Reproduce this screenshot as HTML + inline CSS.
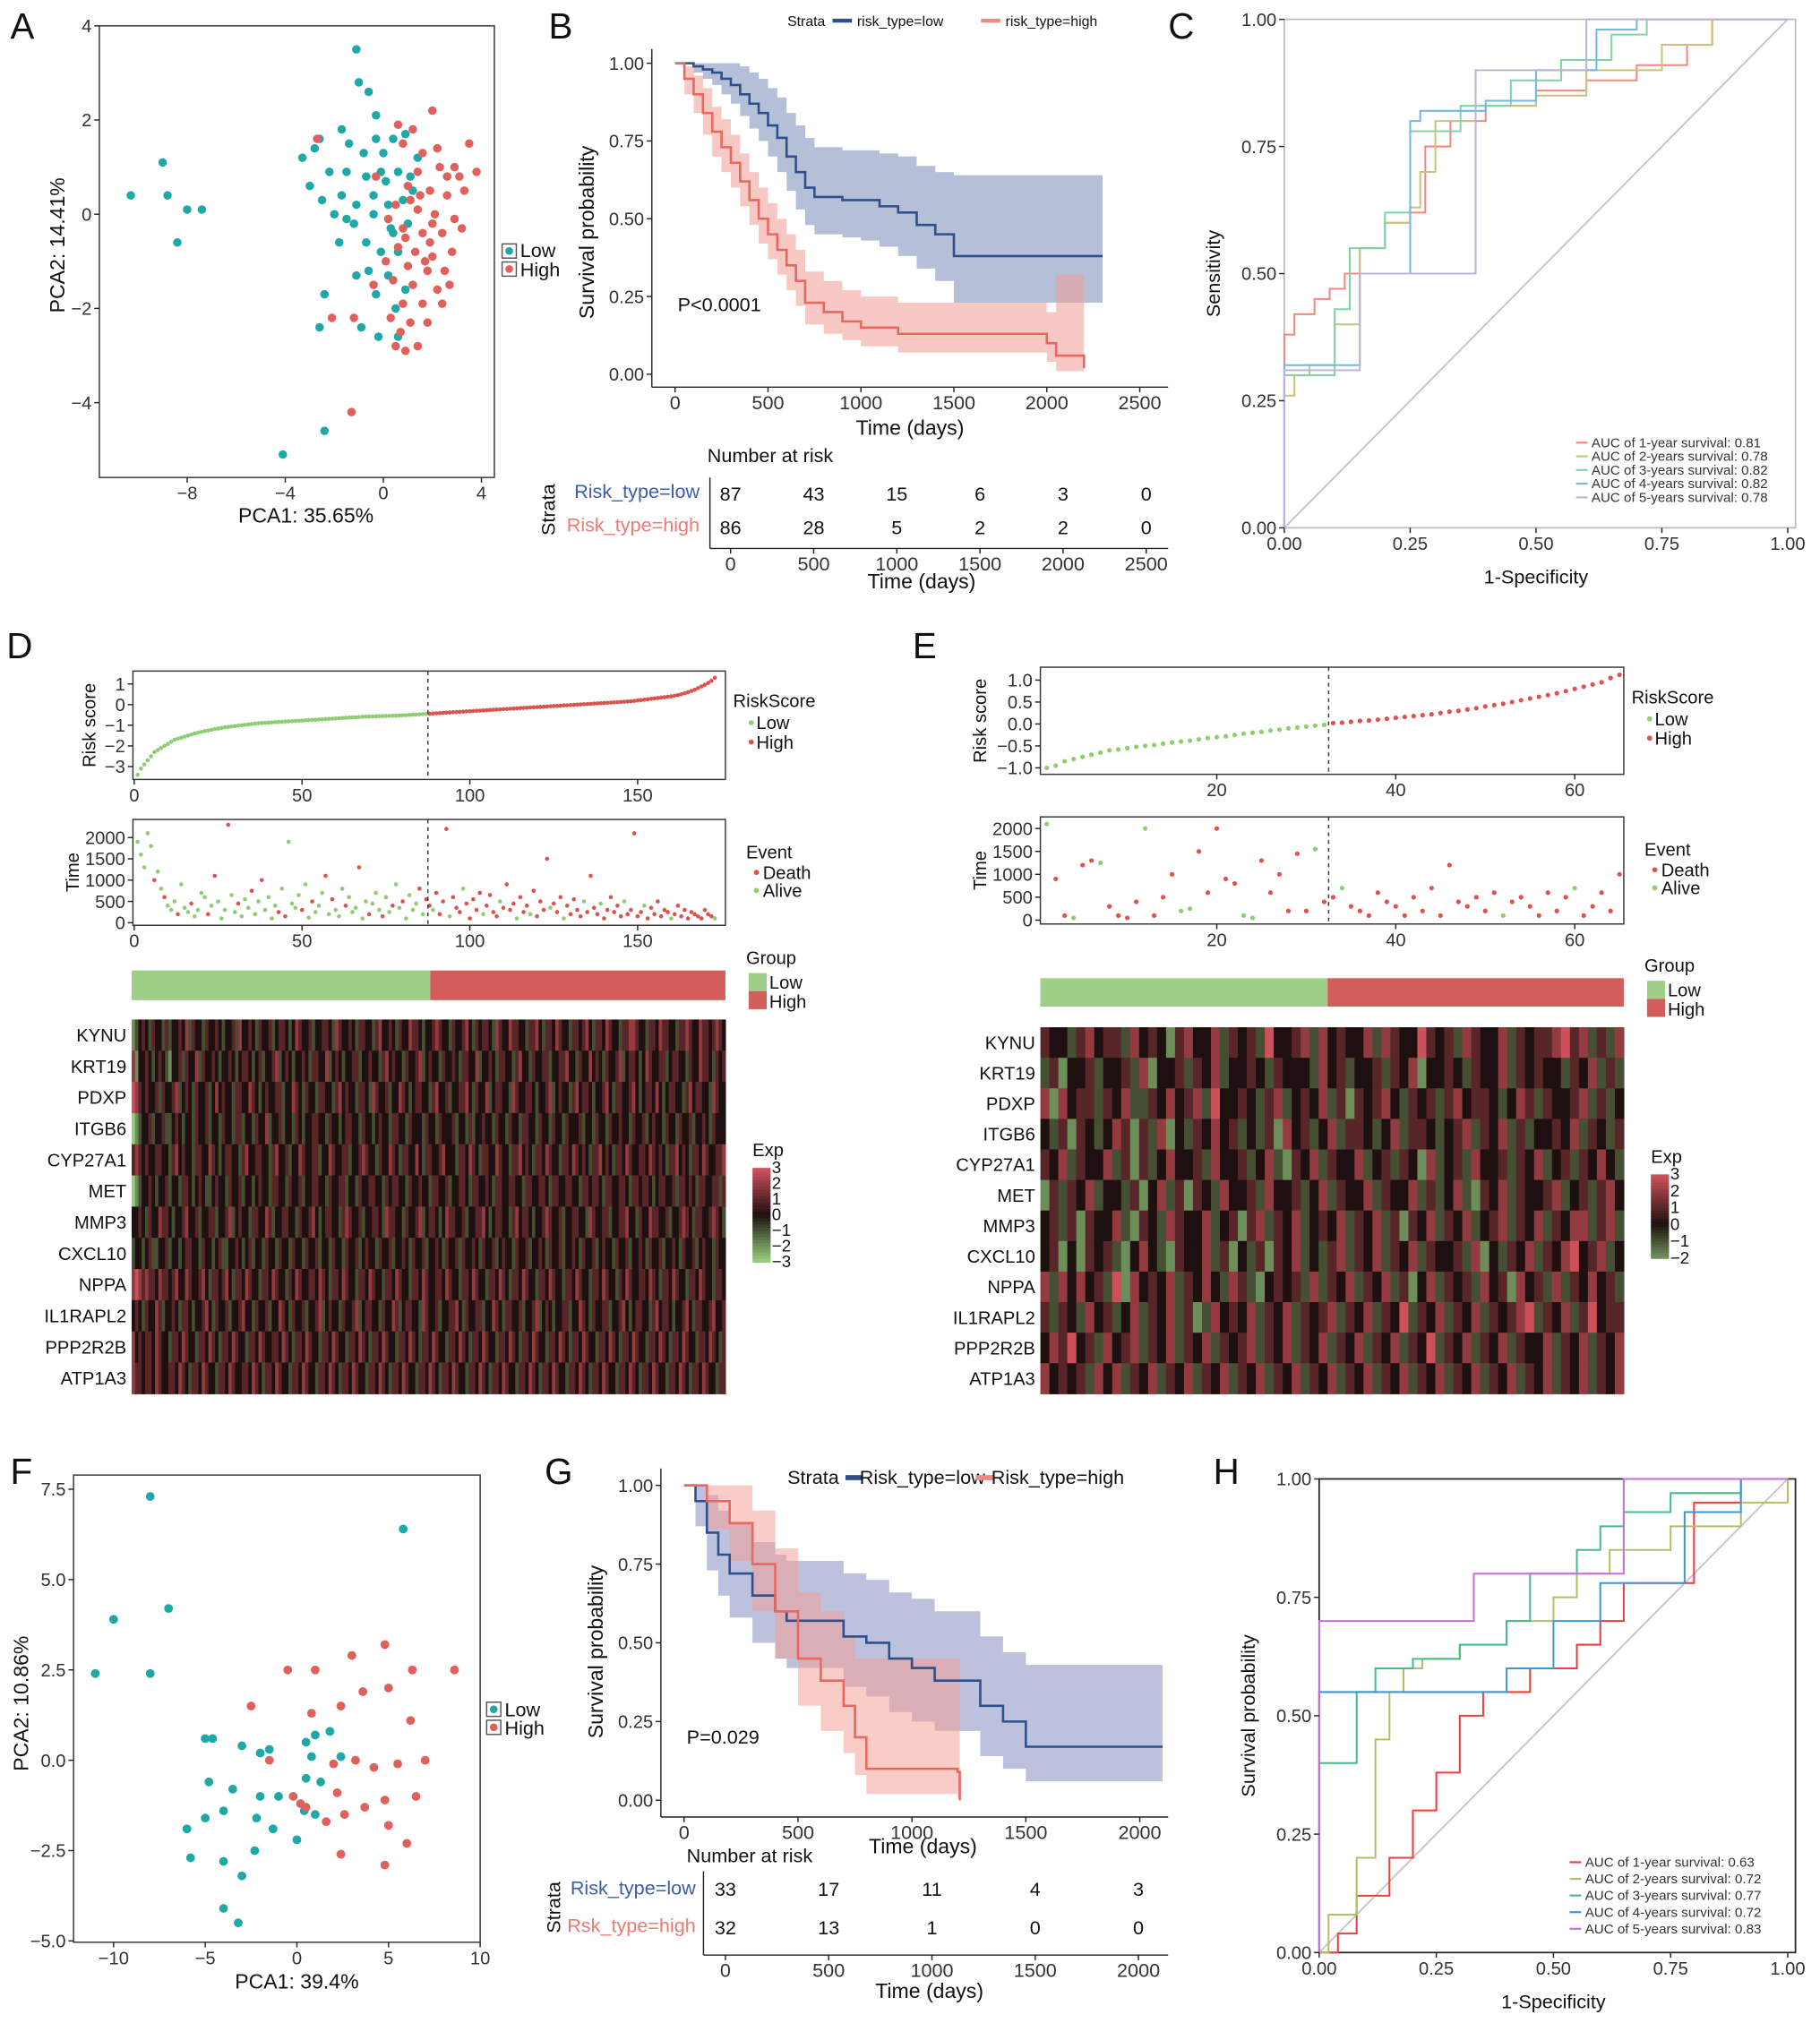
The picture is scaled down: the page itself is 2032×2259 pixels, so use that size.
<!DOCTYPE html>
<html><head><meta charset="utf-8">
<style>
html,body{margin:0;padding:0;background:#fff;}
svg{display:block;font-family:"Liberation Sans",Arial,sans-serif;}
</style></head>
<body>
<svg id="fig" width="2032" height="2259" viewBox="0 0 1410 1567.6" preserveAspectRatio="none" xmlns="http://www.w3.org/2000/svg"></svg>
<script>
// ---------------- DATA ----------------
const aLowPC1=[-10.3,-9.0,-8.8,-8.4,-8.0,-7.4,-4.1,-2.4,-2.6,-2.4,-1.1,-1.0,-0.6,-0.3,-1.7,-2.6,-2.8,-1.4,-0.3,0.4,0.9,-3.0,-2.2,-1.5,-0.7,0.1,0.6,-2.5,-1.7,-1.1,-0.4,0.2,0.8,-1.2,-0.4,0.3,-0.7,-0.1,0.6,-0.6,0.2,-0.3,0.5,-0.9,-0.2,0.6,-1.1,1.2,1.0,-2.0,0.0,-0.8,1.4,-1.5,0.9,0.4,-0.1,1.1,-3.3,-1.8];
const aLowPC2=[0.4,1.1,0.4,-0.6,0.1,0.1,-5.1,-4.6,-2.4,-1.7,3.5,2.8,2.6,2.1,1.8,1.6,1.4,1.5,1.6,1.6,1.7,0.6,0.9,0.9,0.8,0.7,0.9,0.3,0.4,0.2,0.4,0.2,0.3,-0.2,0.0,-0.3,-0.6,-0.8,-0.8,-1.2,-1.3,-1.7,-2.0,-2.4,-2.6,-2.6,-1.3,0.5,-0.2,0.0,1.3,1.3,1.2,-0.1,-1.6,-0.4,0.9,0.8,1.2,-0.6];
const aHighPC1=[-2.7,0.6,1.2,2.0,0.8,1.6,1.4,2.3,2.9,3.1,3.8,1.0,1.9,2.6,3.3,0.5,1.4,2.1,2.9,0.8,1.6,2.4,3.2,0.6,1.3,2.0,2.8,1.0,1.8,2.5,0.4,1.2,2.2,0.8,1.6,2.4,0.3,1.1,1.8,-1.2,-2.1,0.7,1.4,0.9,-1.3,0.5,-0.4,1.9,2.7,0.2,1.5,3.5,2.2,0.1,-0.3,2.0,1.7,2.6,1.1,0.9];
const aHighPC2=[1.6,1.9,1.8,2.2,1.5,1.3,0.9,1.0,1.0,0.8,0.9,0.6,0.5,0.4,0.5,0.2,0.1,0.0,-0.1,-0.3,-0.4,-0.4,-0.3,-0.7,-0.8,-0.9,-0.8,-1.1,-1.2,-1.2,-1.4,-1.5,-1.6,-1.9,-1.9,-1.9,-2.2,-2.3,-2.3,-2.2,-2.2,-2.5,-2.8,-2.9,-4.2,-2.8,-1.5,-0.6,-1.5,-0.1,0.4,1.5,1.4,-1.0,0.8,-0.2,-1.0,0.8,0.3,-0.5];
const bLowT=[0,50,100,150,200,250,300,350,400,450,500,550,600,650,700,750,900,1000,1100,1200,1300,1400,1500,2300];
const bLowS=[1,1,0.99,0.98,0.97,0.95,0.93,0.9,0.87,0.84,0.8,0.76,0.7,0.65,0.6,0.57,0.56,0.56,0.54,0.52,0.48,0.45,0.38,0.38];
const bLowUp=[1,1,1,1,1,1,1,0.99,0.97,0.95,0.92,0.89,0.84,0.8,0.76,0.73,0.72,0.72,0.71,0.7,0.67,0.65,0.64,0.64];
const bLowLo=[1,1,0.97,0.95,0.93,0.9,0.87,0.83,0.79,0.75,0.7,0.65,0.59,0.53,0.48,0.45,0.44,0.43,0.41,0.38,0.34,0.3,0.23,0.23];
const bHighT=[0,50,100,150,200,250,300,350,400,450,500,550,600,650,700,800,900,1000,1200,1500,2000,2050,2200];
const bHighS=[1,0.95,0.9,0.84,0.78,0.73,0.68,0.62,0.56,0.5,0.45,0.4,0.35,0.3,0.23,0.2,0.17,0.15,0.13,0.13,0.1,0.06,0.02];
const bHighUp=[1,0.99,0.96,0.92,0.86,0.82,0.77,0.71,0.65,0.6,0.55,0.5,0.45,0.4,0.33,0.3,0.27,0.25,0.23,0.23,0.2,0.32,0.32];
const bHighLo=[1,0.9,0.84,0.77,0.7,0.65,0.6,0.54,0.48,0.42,0.37,0.32,0.27,0.22,0.16,0.13,0.11,0.09,0.07,0.07,0.04,0.01,0];
const bRiskLow=[87,43,15,6,3,0];
const bRiskHigh=[86,28,5,2,2,0];
const bTicks=[0,500,1000,1500,2000,2500];
const cF1=[0,0,0.02,0.06,0.09,0.12,0.15,0.2,0.25,0.28,0.33,0.4,0.5,0.6,0.7,0.8,0.85,1];
const cT1=[0,0.38,0.42,0.45,0.47,0.5,0.55,0.6,0.62,0.75,0.8,0.83,0.86,0.88,0.91,0.95,1,1];
const cF2=[0,0,0.02,0.05,0.1,0.15,0.2,0.25,0.27,0.3,0.38,0.5,0.6,0.75,0.85,1];
const cT2=[0,0.26,0.3,0.32,0.4,0.55,0.6,0.63,0.7,0.8,0.83,0.85,0.9,0.95,1,1];
const cF3=[0,0,0.1,0.13,0.2,0.25,0.35,0.45,0.55,0.65,0.72,1];
const cT3=[0,0.3,0.43,0.55,0.62,0.78,0.83,0.88,0.92,0.97,1,1];
const cF4=[0,0,0.15,0.25,0.27,0.4,0.5,0.62,0.7,1];
const cT4=[0,0.32,0.5,0.8,0.82,0.84,0.9,0.98,1,1];
const cF5=[0,0,0.12,0.15,0.35,0.38,0.5,0.6,1];
const cT5=[0,0.31,0.31,0.5,0.5,0.9,0.9,1,1];
const cLabels=["AUC of 1-year survival: 0.81","AUC of 2-years survival: 0.78","AUC of 3-years survival: 0.82","AUC of 4-years survival: 0.82","AUC of 5-years survival: 0.78"];
const dRisk=[-3.4,-3.1,-2.9,-2.7,-2.5,-2.3,-2.2,-2.1,-2.0,-1.9,-1.8,-1.7,-1.65,-1.6,-1.55,-1.5,-1.45,-1.4,-1.36,-1.32,-1.28,-1.25,-1.22,-1.19,-1.16,-1.13,-1.1,-1.08,-1.06,-1.04,-1.02,-1.0,-0.98,-0.96,-0.94,-0.92,-0.9,-0.89,-0.88,-0.87,-0.86,-0.85,-0.84,-0.83,-0.82,-0.81,-0.8,-0.79,-0.78,-0.77,-0.76,-0.75,-0.74,-0.73,-0.72,-0.71,-0.7,-0.69,-0.68,-0.67,-0.66,-0.65,-0.64,-0.63,-0.62,-0.61,-0.6,-0.59,-0.58,-0.575,-0.57,-0.565,-0.56,-0.555,-0.55,-0.545,-0.54,-0.535,-0.53,-0.52,-0.51,-0.5,-0.49,-0.48,-0.47,-0.46,-0.45,
-0.44,-0.43,-0.42,-0.41,-0.4,-0.39,-0.38,-0.37,-0.36,-0.35,-0.34,-0.33,-0.32,-0.31,-0.3,-0.29,-0.28,-0.27,-0.26,-0.25,-0.24,-0.23,-0.22,-0.21,-0.2,-0.19,-0.18,-0.17,-0.16,-0.15,-0.14,-0.13,-0.12,-0.11,-0.1,-0.09,-0.08,-0.07,-0.06,-0.05,-0.04,-0.03,-0.02,-0.01,0,0.01,0.02,0.03,0.04,0.05,0.06,0.07,0.08,0.09,0.1,0.11,0.12,0.13,0.14,0.15,0.16,0.18,0.2,0.22,0.24,0.26,0.28,0.3,0.32,0.34,0.36,0.38,0.4,0.43,0.46,0.5,0.55,0.6,0.66,0.72,0.8,0.88,0.96,1.05,1.15,1.3];
const dLowN=87;
const dTime=[1900,1600,1300,2100,1800,1000,1200,800,600,400,300,500,200,900,350,250,450,150,300,700,600,200,400,1100,500,100,300,2300,650,250,450,150,550,350,750,200,500,1000,300,600,100,400,250,800,150,1900,450,350,650,300,900,120,500,250,400,700,1100,200,550,300,150,800,400,600,250,350,1300,100,500,200,450,700,300,150,600,250,400,900,350,500,100,650,300,450,800,200,550,
400,300,700,200,500,2200,150,600,350,250,800,450,100,550,300,700,200,400,650,250,150,500,350,900,300,450,100,600,250,400,200,750,150,500,300,1500,350,450,250,600,100,400,200,550,300,150,500,250,1100,350,200,450,100,300,600,250,400,150,500,200,300,2100,150,250,400,100,350,200,500,150,300,250,100,200,400,150,300,100,250,200,150,100,300,200,150,100];
const dStatus="AAAAADAADAAADAAADAAAADADAAADAADAAADAADAAAADADAAAADAADAAADADAAADAAADAADAAADAADAADAAAADA"+"DDADDDDADDDADDDDDADDDDADDDDADDDADDDDDADDDADDDDDADDDDADDDDDDADDDDDADDDDDDDADDDDDDDDDDDD";
const genes=["KYNU","KRT19","PDXP","ITGB6","CYP27A1","MET","MMP3","CXCL10","NPPA","IL1RAPL2","PPP2R2B","ATP1A3"];
const dHeat=[
"1234324332423343524332433432334253343243342344323543342334432543343244332453343243354432334543324334532434432543354433244532443543324434532443543324455433244354433244543354434543",
"5133432343213342433524334323343234432342334523432334324433523432334423343324534332433452343324334324433523343244332453324334423344533243353432433452344323543344234433243354432434",
"6543433424334523432433423534332443354323433442335432433244332453433244325433423354323443324533423344532433523443325433443233452343324534432334532443345323443532344332453443325433",
"0123342334223432332433423324332442332433523342332432334433243323443324332343324433243332433243334233242334332433243324433243324332433342332433243343324334234332433243342334324333",
"4543433443324534332443354323443324533443324533423354334423354334423345433243354324433532443345333244354324433543324453432443543324435434324453432443543344354343244534324435433445",
"0123343233423324432343223433243342332343324433243342334433243344233243344332434433243343324433423344324433432443344332443344324433443324434432443344324434432344334244343244334424",
"3343243354432334533423344233452343324433542334433243345323443324543342334432544332433452344323544334233445323443324534432334543342334433254334423344533243354433423345432443345432",
"2332342233423323443324332342233432342332433243324332433423324332433423433243342334324334233432433424334324334234332433423343243342334324334234332433423343243342334324334234332433",
"5654544354434533543345324434532443543324435433243543344354324435433244354332443543324435433443543324435433244354324435433244354332443543324435433243543344354324435433244354332443",
"3432433542334324432334532433423345332433423354324334233452343324334523443324335423443325433423344532433442335432443342334523432334423354324334423345323443324534432334532443345334",
"5343443543324435433244354324435433244354334435432443543324435433244354324435433244354324435433244354324435433244354324435433244354324435433244354324435433244354324435433244354324",
"5443443543344354324435433244354334435432443543324435433244354324435433244354324435433244354324435433244354324435433244354324435433244354324435433244354324435433244354324435433244"];
const eRisk=[-1.0,-0.95,-0.85,-0.8,-0.75,-0.7,-0.65,-0.6,-0.58,-0.55,-0.52,-0.5,-0.48,-0.45,-0.42,-0.4,-0.38,-0.35,-0.32,-0.3,-0.28,-0.25,-0.22,-0.2,-0.18,-0.15,-0.13,-0.1,-0.08,-0.06,-0.04,-0.02,
0.02,0.03,0.05,0.07,0.08,0.1,0.12,0.14,0.16,0.18,0.2,0.22,0.25,0.28,0.3,0.33,0.36,0.4,0.43,0.46,0.5,0.54,0.58,0.62,0.66,0.7,0.75,0.8,0.85,0.9,0.95,1.05,1.12];
const eLowN=32;
const eTime=[2100,900,100,50,1200,1300,1250,300,100,50,400,2000,100,500,1000,200,250,1500,600,2000,900,800,100,50,1300,600,1000,200,1450,200,1550,400,
500,700,300,200,100,600,400,300,100,500,200,700,100,1200,400,300,500,200,600,100,400,500,300,100,600,200,500,700,100,300,600,200,1000];
const eStatus="ADDADDADDDDADDDAADDDDDAADDDDDDAD"+"DADDDDDDDDDDDDDDDDDADDDDDDDADDDDD";
const eHeat=[
"43324534425343145335243426334525343352543364342543352434456452425",
"24133423342513342435233432433325342334243513343243352434332435242",
"51534424352243534526334324523435241434532434245344323542433452423",
"32414323541425132435342324153423524432352443234524352423343524324",
"43524335241423533425334235214352433523424315234253342435234243532",
"14243523324135241432533425334235243352433524235214352433452342453",
"34241433521432543352341452435234352435241435243523452435243552452",
"34131434213532143352413241435232452435243524334251324352435634523",
"52535342615343524353254213434252435243524135243425341534252435342",
"42432534235243524125343524352434524352436243524352434562435246344",
"35463425345243524352434524352435243524352436243524352433524352435",
"53434253524352435243524352435243524352435243524352435243524352435"];
const fLowPC1=[-11,-10,-8,-8,-7,5.8,-5,-4.6,-3,-2,-1.5,0.5,1,1.8,0.8,-4.8,-3.5,-2,-1,0.5,1.3,2.4,-6,-5,-4,-2.2,-1.3,0,0.4,1,-5.8,-4,-3,-2.3,-4,-3.2];
const fLowPC2=[2.4,3.9,7.3,2.4,4.2,6.4,0.6,0.6,0.4,0.2,0.3,0.5,0.7,0.8,0.1,-0.6,-0.8,-1,-1,-0.5,-0.6,0.1,-1.9,-1.6,-1.4,-1.6,-1.9,-2.2,-1.4,-1.5,-2.7,-2.8,-3.2,-2.5,-4.1,-4.5];
const fHighPC1=[-0.5,1,3,4.8,6.3,8.6,-2.5,0.8,2.4,3.6,5,6.2,-1.5,2,3.2,4.2,5.5,7,-0.2,0.2,0.5,2.2,3.7,4.8,6.5,1.6,2.6,5,6,2.4,4.8];
const fHighPC2=[2.5,2.5,2.9,3.2,2.5,2.5,1.5,1.3,1.5,1.9,2,1.1,0,-0.1,0,-0.2,-0.1,0,-1,-1.2,-1.3,-0.9,-1.3,-1.1,-1,-1.7,-1.5,-1.8,-2.3,-2.6,-2.9];
const gLowT=[0,50,100,150,200,300,400,450,600,700,800,900,1000,1100,1200,1300,1400,1500,2100];
const gLowS=[1,0.95,0.85,0.78,0.72,0.65,0.6,0.57,0.57,0.52,0.5,0.45,0.42,0.38,0.38,0.3,0.25,0.17,0.17];
const gLowUp=[1,1,0.97,0.92,0.88,0.82,0.78,0.76,0.76,0.72,0.7,0.66,0.64,0.6,0.6,0.52,0.47,0.43,0.43];
const gLowLo=[1,0.87,0.73,0.65,0.58,0.5,0.45,0.42,0.42,0.36,0.33,0.28,0.25,0.22,0.22,0.14,0.1,0.06,0.06];
const gHighT=[0,100,200,300,400,500,600,700,750,800,1200,1210];
const gHighS=[1,0.95,0.88,0.75,0.6,0.45,0.38,0.3,0.2,0.1,0.09,0.0];
const gHighUp=[1,1,1,0.92,0.8,0.66,0.6,0.52,0.45,0.45,0.45,0.45];
const gHighLo=[1,0.86,0.76,0.6,0.45,0.3,0.22,0.15,0.08,0.02,0.01,0.0];
const gRiskLow=[33,17,11,4,3];
const gRiskHigh=[32,13,1,0,0];
const gTicks=[0,500,1000,1500,2000];
const hF1=[0,0.04,0.08,0.15,0.2,0.25,0.3,0.35,0.45,0.55,0.6,0.65,0.75,0.8,0.9,1];
const hT1=[0,0.04,0.12,0.2,0.3,0.38,0.5,0.55,0.6,0.65,0.7,0.78,0.78,0.95,1,1];
const hF2=[0,0.02,0.08,0.12,0.15,0.18,0.22,0.3,0.4,0.5,0.55,0.62,0.75,0.9,1];
const hT2=[0,0.08,0.2,0.45,0.55,0.6,0.62,0.65,0.7,0.75,0.8,0.85,0.9,0.95,1];
const hF3=[0,0,0.08,0.12,0.2,0.3,0.4,0.45,0.55,0.6,0.65,0.75,0.9,1];
const hT3=[0,0.4,0.55,0.6,0.62,0.65,0.7,0.8,0.85,0.9,0.93,0.97,1,1];
const hF4=[0,0,0.4,0.5,0.6,0.75,0.78,0.9,1];
const hT4=[0,0.55,0.6,0.7,0.78,0.78,0.93,1,1];
const hF5=[0,0,0.33,0.65,1];
const hT5=[0,0.7,0.8,1,1];
const hLabels=["AUC of 1-year survival: 0.63","AUC of 2-years survival: 0.72","AUC of 3-years survival: 0.77","AUC of 4-years survival: 0.72","AUC of 5-years survival: 0.83"];

// ---------------- HELPERS ----------------
const NS="http://www.w3.org/2000/svg";
const svg=document.getElementById('fig');
function el(tag,attrs,name,parent){
  const e=document.createElementNS(NS,tag);
  for(const k in attrs) e.setAttribute(k,attrs[k]);
  
  
  (parent||svg).appendChild(e);return e;
}
function txt(x,y,s,size,name,opt){
  opt=opt||{};
  const a={x:x,y:y,'font-size':size,fill:opt.fill||'#111','text-anchor':opt.anchor||'start'};
  if(opt.rot) a.transform='rotate(-90,'+x+','+y+')';
  const t=el('text',a,name);t.textContent=s;return t;
}
function lin(d0,d1,r0,r1){return v=>r0+(v-d0)*(r1-r0)/(d1-d0);}
function line(x1,y1,x2,y2,name,stroke,w,dash){const a={x1:x1,y1:y1,x2:x2,y2:y2,stroke:stroke||'#222','stroke-width':w||1};if(dash)a['stroke-dasharray']=dash;return el('line',a,name);}
function xAxis(ticks,sx,y,name,size,lab){ticks.forEach((t,i)=>{line(sx(t),y,sx(t),y+4,name+'-tick');txt(sx(t),y+17,lab?lab[i]:String(t),size||14,name+'-label',{anchor:'middle',fill:'#333'});});}
function yAxis(ticks,sy,x,name,size,lab){ticks.forEach((t,i)=>{line(x-4,sy(t),x,sy(t),name+'-tick');txt(x-6,sy(t)+5,lab?lab[i]:String(t),size||14,name+'-label',{anchor:'end',fill:'#333'});});}
function stepPath(T,S,sx,sy,tEnd){let d='M'+sx(T[0])+','+sy(S[0]);for(let i=1;i<T.length;i++){d+=' H'+sx(T[i])+' V'+sy(S[i]);}if(tEnd!==undefined)d+=' H'+sx(tEnd);return d;}
function band(T,U,L,sx,sy,tEnd){let up=[],lo=[];for(let i=0;i<T.length;i++){const x0=sx(T[i]),x1=sx(i<T.length-1?T[i+1]:tEnd);up.push(x0+','+sy(U[i]),x1+','+sy(U[i]));lo.push(x0+','+sy(L[i]),x1+','+sy(L[i]));}return up.concat(lo.reverse()).join(' ');}
function rocPath(F,T,sx,sy){let d='M'+sx(F[0])+','+sy(T[0]);for(let i=1;i<F.length;i++){d+=' H'+sx(F[i])+' V'+sy(T[i]);}return d;}
function heatColor(v){const t=Math.min(1,Math.abs(v)/3);const b=[30,16,16];const c=v<0?[150,205,125]:[205,80,90];return 'rgb('+b.map((x,i)=>Math.round(x+(c[i]-x)*t)).join(',')+')';}

[['A',8,30],['B',425,30],['C',905,30],['D',5,510],['E',707,510],['F',8,1150],['G',422,1150],['H',940,1150]].forEach(p=>txt(p[1],p[2],p[0],28,'panel-label-'+p[0].toLowerCase()));

// ---------------- PANEL A ----------------
(function(){
  const sx=lin(0,4,297,373),sy=lin(0,2,166,93);
  el('rect',{x:77,y:20,width:306,height:350,fill:'none',stroke:'#333','stroke-width':1},'pca-a-frame');
  xAxis([-8,-4,0,4],sx,370,'pca-a-x',14,['−8','−4','0','4']);
  yAxis([4,2,0,-2,-4],sy,77,'pca-a-y',14,['4','2','0','−2','−4']);
  aLowPC1.forEach((v,i)=>el('circle',{cx:sx(v),cy:sy(aLowPC2[i]),r:3.3,fill:'#1fa8a8'},'pca-a-low-point'));
  aHighPC1.forEach((v,i)=>el('circle',{cx:sx(v),cy:sy(aHighPC2[i]),r:3.3,fill:'#e0615c'},'pca-a-high-point'));
  txt(237,405,'PCA1: 35.65%',16,'pca-a-x-title',{anchor:'middle'});
  txt(50,190,'PCA2: 14.41%',16,'pca-a-y-title',{anchor:'middle',rot:true});
  el('rect',{x:389,y:189,width:11,height:11,fill:'none',stroke:'#555'},'pca-a-legend-low-key');el('circle',{cx:394.5,cy:194.5,r:3,fill:'#1fa8a8'},'pca-a-legend-low-dot');
  el('rect',{x:389,y:203,width:11,height:11,fill:'none',stroke:'#555'},'pca-a-legend-high-key');el('circle',{cx:394.5,cy:208.5,r:3,fill:'#e0615c'},'pca-a-legend-high-dot');
  txt(403,199,'Low',15,'pca-a-legend-low');txt(403,214,'High',15,'pca-a-legend-high');
})();

// ---------------- PANEL B ----------------
(function(){
  const sx=lin(0,2500,523,883),sy=lin(0,1,290,49);
  el('polygon',{points:band(bLowT,bLowUp,bLowLo,sx,sy,2300),fill:'#5a73a8','fill-opacity':0.45},'km-b-low-ci');
  el('polygon',{points:band(bHighT,bHighUp,bHighLo,sx,sy,2200),fill:'#f39a94','fill-opacity':0.55},'km-b-high-ci');
  el('path',{d:stepPath(bLowT,bLowS,sx,sy,2300),fill:'none',stroke:'#2f4f8c','stroke-width':1.8},'km-b-low-curve');
  el('path',{d:stepPath(bHighT,bHighS,sx,sy,2200),fill:'none',stroke:'#e8675f','stroke-width':1.8},'km-b-high-curve');
  line(505,38,505,300,'km-b-y-axis');line(505,300,905,300,'km-b-x-axis');
  xAxis(bTicks,sx,300,'km-b-x',15);
  yAxis([1,0.75,0.5,0.25,0],sy,505,'km-b-y',14,['1.00','0.75','0.50','0.25','0.00']);
  txt(705,337,'Time (days)',16,'km-b-x-title',{anchor:'middle'});
  txt(460,180,'Survival probability',16,'km-b-y-title',{anchor:'middle',rot:true});
  txt(525,241,'P<0.0001',15,'km-b-pvalue');
  txt(610,20,'Strata',11,'km-b-legend-title');
  line(645,16,660,16,'km-b-legend-low-key','#2f4f8c',3);txt(664,20,'risk_type=low',11,'km-b-legend-low');
  line(760,16,775,16,'km-b-legend-high-key','#f08a82',3);txt(779,20,'risk_type=high',11,'km-b-legend-high');
  const tx=lin(0,2500,566,888);
  txt(548,358,'Number at risk',15,'km-b-risk-title');
  txt(430,395,'Strata',15,'km-b-risk-strata',{anchor:'middle',rot:true});
  txt(542,386,'Risk_type=low',15,'km-b-risk-low-label',{anchor:'end',fill:'#3b5ea8'});
  txt(542,412,'Risk_type=high',15,'km-b-risk-high-label',{anchor:'end',fill:'#ee7a72'});
  bRiskLow.forEach((v,i)=>txt(tx(bTicks[i]),388,String(v),15,'km-b-risk-low-count',{anchor:'middle'}));
  bRiskHigh.forEach((v,i)=>txt(tx(bTicks[i]),414,String(v),15,'km-b-risk-high-count',{anchor:'middle'}));
  line(550,370,550,425,'km-b-risk-y-axis');line(550,425,905,425,'km-b-risk-x-axis');
  xAxis(bTicks,tx,425,'km-b-risk-x',15);
  txt(714,456,'Time (days)',16,'km-b-risk-x-title',{anchor:'middle'});
})();

function roc(pfx,x0,x1,y0,y1,curves,cols,labels,legX,legY,legStep,yTitle,boxCol){
  const sx=lin(0,1,x0,x1),sy=lin(0,1,y1,y0);
  el('rect',{x:x0,y:y0,width:x1-x0+6,height:y1-y0,fill:'none',stroke:boxCol,'stroke-width':1.2},pfx+'-frame');
  line(sx(0),sy(0),sx(1),sy(1),pfx+'-diagonal','#c8c8c8',1.4);
  curves.forEach((c,i)=>el('path',{d:rocPath(c[0],c[1],sx,sy),fill:'none',stroke:cols[i],'stroke-width':1.4},pfx+'-curve-'+(i+1)));
  const lab=['0.00','0.25','0.50','0.75','1.00'];
  xAxis([0,0.25,0.5,0.75,1],sx,y1,pfx+'-x',14,lab);
  yAxis([0,0.25,0.5,0.75,1],sy,x0,pfx+'-y',14,lab);
  txt((x0+x1)/2,y1+43,'1-Specificity',15,pfx+'-x-title',{anchor:'middle'});
  txt(x0-50,(y0+y1)/2,yTitle,15,pfx+'-y-title',{anchor:'middle',rot:true});
  labels.forEach((l,i)=>{const y=legY+i*legStep;line(legX,y,legX+9,y,pfx+'-legend-key',cols[i],1.5);txt(legX+12,y+3.5,l,10.5,pfx+'-legend-entry',{fill:'#333'});});
}
roc('roc-c',995,1385,15,409,[[cF1,cT1],[cF2,cT2],[cF3,cT3],[cF4,cT4],[cF5,cT5]],['#f08a80','#c9c27a','#7ed4a6','#72b8e2','#bdb4d2'],cLabels,1221,343,10.6,'Sensitivity','#bbb');
roc('roc-h',1022,1385,1146,1513,[[hF1,hT1],[hF2,hT2],[hF3,hT3],[hF4,hT4],[hF5,hT5]],['#e8403f','#b5be66','#45bc8a','#3c97d8','#c56fdc'],hLabels,1216,1443,12.9,'Survival probability','#222');

function riskPanel(pfx,risk,lowN,time,status,heat,o){
  const n=risk.length;
  const sx=lin(0,o.xref,o.x0,o.xrefPx);
  el('rect',{x:o.px0,y:o.r0,width:o.px1-o.px0,height:o.r1-o.r0,fill:'none',stroke:'#333'},pfx+'-risk-frame');
  const sy=lin(o.ry[0],o.ry[1],o.ry[2],o.ry[3]);
  risk.forEach((v,i)=>el('circle',{cx:sx(i+1),cy:sy(v),r:o.dot,fill:i<lowN?'#8fcc74':'#d9534f'},pfx+'-risk-point'));
  const xd=sx(lowN+0.5);
  line(xd,o.r0,xd,o.r1,pfx+'-risk-cutoff','#333',1,'3,3');
  xAxis(o.xt,sx,o.r1,pfx+'-risk-x',14);
  yAxis(o.rt,sy,o.px0,pfx+'-risk-y',14,o.rtl);
  txt(o.px0-o.rtOff,(o.r0+o.r1)/2,'Risk score',14,pfx+'-risk-y-title',{anchor:'middle',rot:true});
  txt(o.px1+6,o.r0+28,'RiskScore',14,pfx+'-risk-legend-title');
  el('circle',{cx:o.px1+20,cy:o.r0+40,r:2,fill:'#8fcc74'},pfx+'-risk-legend-low-dot');txt(o.px1+24,o.r0+45,'Low',14,pfx+'-risk-legend-low');
  el('circle',{cx:o.px1+20,cy:o.r0+55,r:2,fill:'#d9534f'},pfx+'-risk-legend-high-dot');txt(o.px1+24,o.r0+60,'High',14,pfx+'-risk-legend-high');
  el('rect',{x:o.px0,y:o.e0,width:o.px1-o.px0,height:o.e1-o.e0,fill:'none',stroke:'#333'},pfx+'-event-frame');
  const ty=lin(0,2000,o.ey[0],o.ey[1]);
  time.forEach((v,i)=>el('circle',{cx:sx(i+1),cy:ty(v),r:o.dot,fill:status[i]==='D'?'#d9534f':'#8fcc74'},pfx+'-event-point'));
  line(xd,o.e0,xd,o.e1,pfx+'-event-cutoff','#333',1,'3,3');
  xAxis(o.xt,sx,o.e1,pfx+'-event-x',14);
  yAxis([2000,1500,1000,500,0],ty,o.px0,pfx+'-event-y',14);
  txt(o.px0-42,(o.e0+o.e1)/2,'Time',14,pfx+'-event-y-title',{anchor:'middle',rot:true});
  txt(o.px1+16,o.e0+30,'Event',14,pfx+'-event-legend-title');
  el('circle',{cx:o.px1+24,cy:o.e0+41,r:2,fill:'#d9534f'},pfx+'-event-legend-death-dot');txt(o.px1+29,o.e0+46,'Death',14,pfx+'-event-legend-death');
  el('circle',{cx:o.px1+24,cy:o.e0+55,r:2,fill:'#8fcc74'},pfx+'-event-legend-alive-dot');txt(o.px1+29,o.e0+60,'Alive',14,pfx+'-event-legend-alive');
  const hx=lin(0,n,o.h0,o.h1);
  el('rect',{x:hx(0),y:o.g0,width:hx(lowN)-hx(0),height:o.g1-o.g0,fill:'#9fce87'},pfx+'-group-low');
  el('rect',{x:hx(lowN),y:o.g0,width:hx(n)-hx(lowN),height:o.g1-o.g0,fill:'#d35d5b'},pfx+'-group-high');
  txt(o.h1+16,o.g0-5,'Group',14,pfx+'-group-legend-title');
  el('rect',{x:o.h1+18,y:o.g0+2,width:14,height:14,fill:'#9fce87'},pfx+'-group-legend-low-key');txt(o.h1+34,o.g0+14,'Low',14,pfx+'-group-legend-low');
  el('rect',{x:o.h1+18,y:o.g0+16,width:14,height:14,fill:'#d35d5b'},pfx+'-group-legend-high-key');txt(o.h1+34,o.g0+29,'High',14,pfx+'-group-legend-high');
  const rh=(o.hm1-o.hm0)/heat.length;
  heat.forEach((row,r)=>{
    const cw=(o.h1-o.h0)/row.length;
    for(let c=0;c<row.length;c++){
      el('rect',{x:o.h0+c*cw,y:o.hm0+r*rh,width:cw+0.4,height:rh+0.4,fill:heatColor(+row[c]-3)},pfx+'-heat-cell');
    }
    txt(o.h0-4,o.hm0+r*rh+rh/2+5,genes[r],14,pfx+'-gene-label',{anchor:'end'});
  });
  const cb0=o.cb[1],cb1=o.cb[2],cx=o.cb[0];
  txt(cx,cb0-9,'Exp',14,pfx+'-exp-title');
  const steps=30;for(let s=0;s<steps;s++){const v=o.cbMax-(o.cbMax-o.cbMin)*s/(steps-1);el('rect',{x:cx,y:cb0+s*(cb1-cb0)/steps,width:14,height:(cb1-cb0)/steps+0.5,fill:heatColor(v)},pfx+'-exp-bar');}
  const cy=lin(o.cbMax,o.cbMin,cb0,cb1);
  o.cbt.forEach(v=>txt(cx+15,cy(v)+4,v<0?'−'+(-v):String(v),13,pfx+'-exp-label'));
}
riskPanel('risk-d',dRisk,dLowN,dTime,dStatus,dHeat,{xref:150,x0:104,xrefPx:494,px0:103,px1:562,r0:520,r1:604,ry:[1,-3,530,594],rt:[1,0,-1,-2,-3],rtl:['1','0','−1','−2','−3'],rtOff:29,xt:[0,50,100,150],e0:635,e1:717,ey:[715,649],h0:102,h1:562,g0:752,g1:775,hm0:790,hm1:1080,cb:[583,905,978],cbMax:3,cbMin:-3,cbt:[3,2,1,0,-1,-2,-3],dot:1.6});
riskPanel('risk-e',eRisk,eLowN,eTime,eStatus,eHeat,{xref:60,x0:804,xrefPx:1220,px0:806,px1:1258,r0:517,r1:600,ry:[1,-1,527,595],rt:[1,0.5,0,-0.5,-1],rtl:['1.0','0.5','0.0','−0.5','−1.0'],rtOff:42,xt:[20,40,60],e0:633,e1:716,ey:[713,642],h0:806,h1:1258,g0:758,g1:780,hm0:796,hm1:1080,cb:[1279,910,975],cbMax:3,cbMin:-2,cbt:[3,2,1,0,-1,-2],dot:1.8});

// ---------------- PANEL F ----------------
(function(){
  const sx=lin(0,10,230,372),sy=lin(0,5,1364,1224);
  el('rect',{x:57,y:1143,width:315,height:362,fill:'none',stroke:'#333'},'pca-f-frame');
  xAxis([-10,-5,0,5,10],sx,1505,'pca-f-x',14,['−10','−5','0','5','10']);
  yAxis([7.5,5,2.5,0,-2.5,-5],sy,57,'pca-f-y',14,['7.5','5.0','2.5','0.0','−2.5','−5.0']);
  fLowPC1.forEach((v,i)=>el('circle',{cx:sx(v),cy:sy(fLowPC2[i]),r:3.4,fill:'#1fa8a8'},'pca-f-low-point'));
  fHighPC1.forEach((v,i)=>el('circle',{cx:sx(v),cy:sy(fHighPC2[i]),r:3.4,fill:'#e0615c'},'pca-f-high-point'));
  txt(230,1541,'PCA1: 39.4%',16,'pca-f-x-title',{anchor:'middle'});
  txt(22,1320,'PCA2: 10.86%',16,'pca-f-y-title',{anchor:'middle',rot:true});
  el('rect',{x:377,y:1319,width:11,height:11,fill:'none',stroke:'#555'},'pca-f-legend-low-key');el('circle',{cx:382.5,cy:1324.5,r:3,fill:'#1fa8a8'},'pca-f-legend-low-dot');
  el('rect',{x:377,y:1333,width:11,height:11,fill:'none',stroke:'#555'},'pca-f-legend-high-key');el('circle',{cx:382.5,cy:1338.5,r:3,fill:'#e0615c'},'pca-f-legend-high-dot');
  txt(391,1330,'Low',15,'pca-f-legend-low');txt(391,1344,'High',15,'pca-f-legend-high');
})();

// ---------------- PANEL G ----------------
(function(){
  const sx=lin(0,2000,530,883),sy=lin(0,1,1395,1151);
  el('polygon',{points:band(gLowT,gLowUp,gLowLo,sx,sy,2100),fill:'#6a78b3','fill-opacity':0.45},'km-g-low-ci');
  el('polygon',{points:band(gHighT,gHighUp,gHighLo,sx,sy,1210),fill:'#f59a90','fill-opacity':0.5},'km-g-high-ci');
  el('path',{d:stepPath(gLowT,gLowS,sx,sy,2100),fill:'none',stroke:'#2f4f8c','stroke-width':1.8},'km-g-low-curve');
  el('path',{d:stepPath(gHighT,gHighS,sx,sy,1210),fill:'none',stroke:'#e8675f','stroke-width':1.8},'km-g-high-curve');
  line(512,1138,512,1408,'km-g-y-axis');line(512,1408,905,1408,'km-g-x-axis');
  xAxis(gTicks,sx,1408,'km-g-x',15);
  yAxis([1,0.75,0.5,0.25,0],sy,512,'km-g-y',14,['1.00','0.75','0.50','0.25','0.00']);
  txt(715,1436,'Time (days)',16,'km-g-x-title',{anchor:'middle'});
  txt(467,1280,'Survival probability',16,'km-g-y-title',{anchor:'middle',rot:true});
  txt(532,1351,'P=0.029',15,'km-g-pvalue');
  txt(610,1150,'Strata',15,'km-g-legend-title');
  line(655,1145,668,1145,'km-g-legend-low-key','#2f4f8c',4);txt(666,1150,'Risk_type=low',15,'km-g-legend-low');
  line(756,1145,770,1145,'km-g-legend-high-key','#f08a82',4);txt(768,1150,'Risk_type=high',15,'km-g-legend-high');
  const tx=lin(0,2000,562,882);
  txt(532,1443,'Number at risk',15,'km-g-risk-title');
  txt(434,1478,'Strata',15,'km-g-risk-strata',{anchor:'middle',rot:true});
  txt(539,1468,'Risk_type=low',15,'km-g-risk-low-label',{anchor:'end',fill:'#3b5ea8'});
  txt(539,1497,'Rsk_type=high',15,'km-g-risk-high-label',{anchor:'end',fill:'#ee7a72'});
  gRiskLow.forEach((v,i)=>txt(tx(gTicks[i]),1469,String(v),15,'km-g-risk-low-count',{anchor:'middle'}));
  gRiskHigh.forEach((v,i)=>txt(tx(gTicks[i]),1499,String(v),15,'km-g-risk-high-count',{anchor:'middle'}));
  line(545,1450,545,1515,'km-g-risk-y-axis');line(545,1515,905,1515,'km-g-risk-x-axis');
  xAxis(gTicks,tx,1515,'km-g-risk-x',15);
  txt(720,1548,'Time (days)',16,'km-g-risk-x-title',{anchor:'middle'});
})();
</script>
</body></html>
